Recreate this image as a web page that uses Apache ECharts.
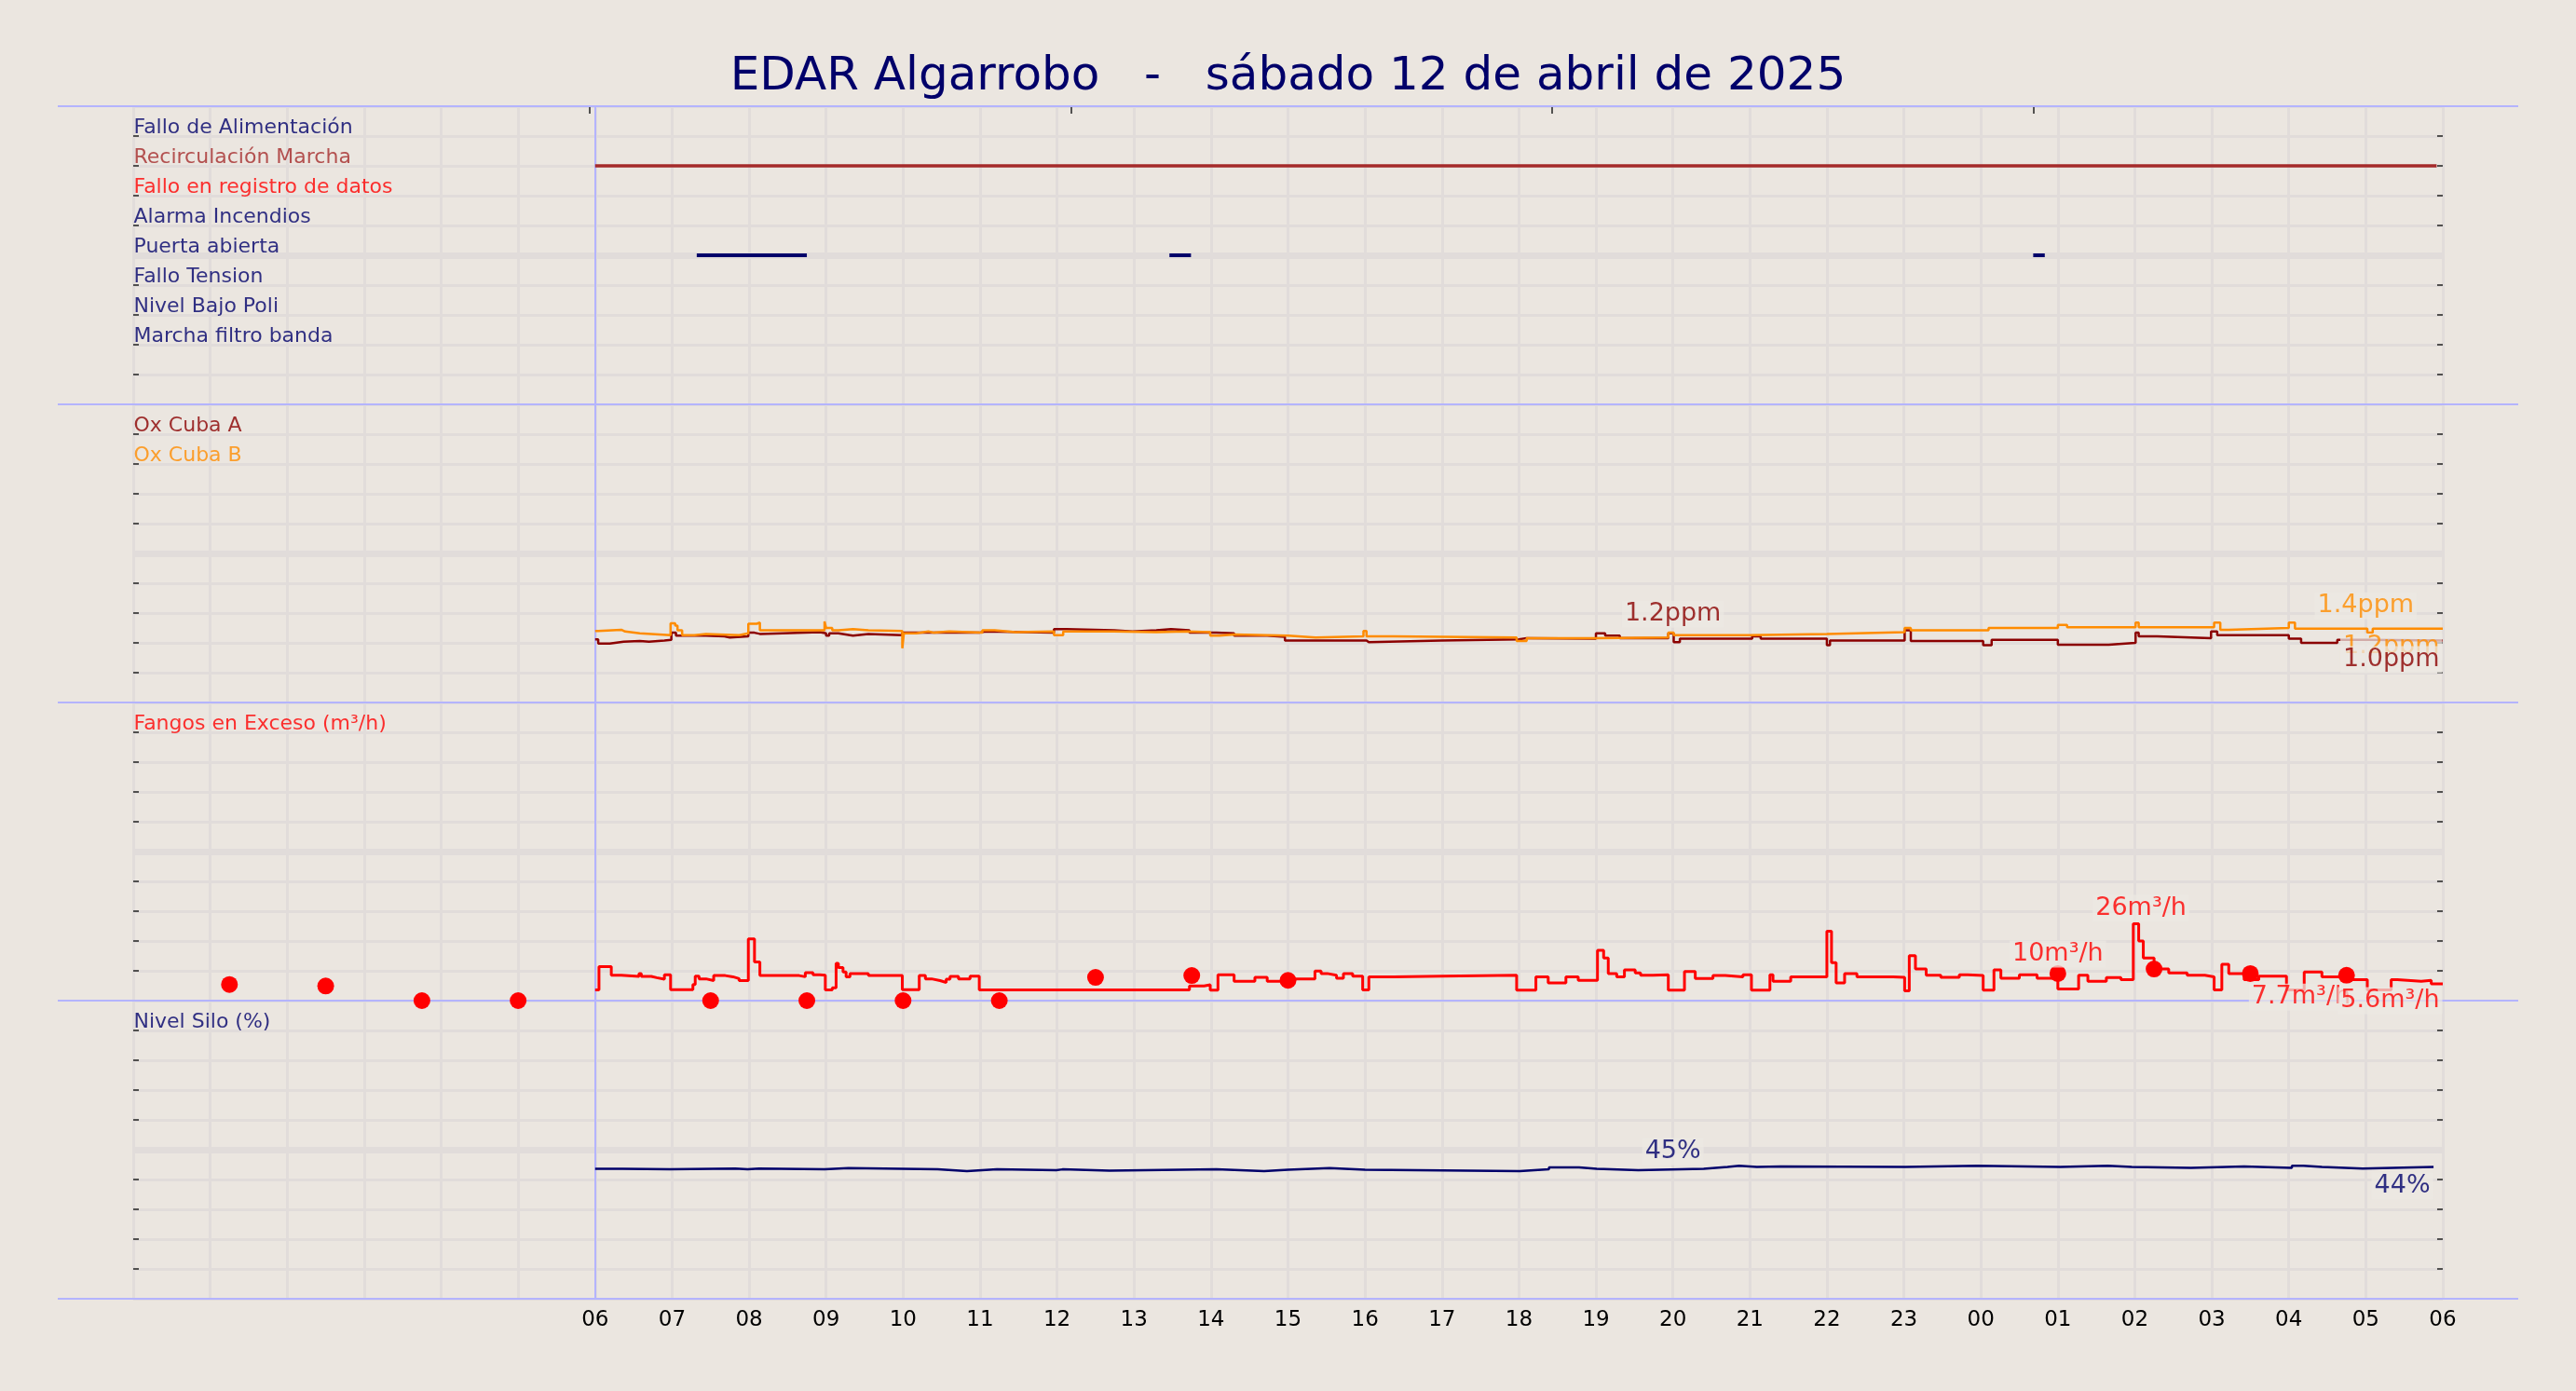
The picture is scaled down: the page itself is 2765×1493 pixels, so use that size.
<!DOCTYPE html>
<html>
<head>
<meta charset="utf-8">
<title>EDAR Algarrobo</title>
<script src="https://cdn.jsdelivr.net/npm/echarts@6/dist/echarts.min.js"></script>
<style>
html, body { margin: 0; padding: 0; background: #ebe6e0; }
#chart { width: 2765px; height: 1493px; }
</style>
</head>
<body>
<div id="chart"></div>
<script>
'use strict';

/*----- data -----*/
var hourLabels = ['06', '07', '08', '09', '10', '11', '12', '13', '14', '15', '16', '17', '18',
	'19', '20', '21', '22', '23', '00', '01', '02', '03', '04', '05', '06'];
var topTicks = [5.93, 12.18, 18.43, 24.68];

var signalNames = ['Fallo de Alimentación', 'Recirculación Marcha', 'Fallo en registro de datos',
	'Alarma Incendios', 'Puerta abierta', 'Fallo Tension', 'Nivel Bajo Poli', 'Marcha filtro banda'];
var signalRows = [9, 8, 7, 6, 5, 4, 3, 2];
var recircOn = [[6, 29.92]];
var puertaOn = [[7.32, 8.75], [13.46, 13.74], [24.68, 24.83]];

var oxNames = ['Ox Cuba A', 'Ox Cuba B'];
var oxA = [[6.0, 1.06], [6.04, 0.99], [6.19, 1.02], [6.37, 1.03], [6.58, 1.02], [6.70, 1.04], [6.90, 1.05],
	[6.99, 1.17], [7.05, 1.12], [7.44, 1.11], [7.68, 1.09], [7.75, 1.11], [7.99, 1.17], [8.07, 1.15],
	[8.14, 1.18], [8.92, 1.16], [9.00, 1.12], [9.04, 1.16], [9.16, 1.13], [9.31, 1.12], [9.35, 1.15],
	[9.55, 1.13], [9.99, 1.17], [10.99, 1.19], [11.07, 1.17], [11.96, 1.23], [12.12, 1.21], [12.74, 1.19],
	[12.98, 1.21], [13.29, 1.23], [13.48, 1.21], [13.72, 1.17], [14.07, 1.16], [14.30, 1.12], [14.73, 1.10],
	[14.96, 1.04], [16.02, 1.01], [16.05, 1.04], [16.99, 1.06], [18.0, 1.08], [18.10, 1.07], [19.0, 1.16],
	[19.12, 1.12], [19.31, 1.08], [19.94, 1.16], [20.01, 1.01], [20.09, 1.07], [21.03, 1.11], [21.14, 1.07],
	[22.0, 0.96], [22.04, 1.04], [23.01, 1.21], [23.09, 1.03], [24.03, 0.96], [24.14, 1.05], [25.0, 0.97],
	[25.66, 1.0], [26.01, 1.17], [26.05, 1.11], [26.29, 1.08], [26.99, 1.19], [27.07, 1.13], [28.0, 1.07],
	[28.16, 1.0], [28.63, 1.05], [29.02, 1.04], [30.0, 1.04]];
var oxB = [[6.0, 1.20], [6.04, 1.22], [6.34, 1.19], [6.39, 1.16], [6.58, 1.13], [6.98, 1.33], [7.04, 1.29],
	[7.07, 1.21], [7.13, 1.13], [7.29, 1.15], [7.44, 1.13], [7.87, 1.16], [7.99, 1.32], [8.10, 1.34],
	[8.14, 1.21], [8.98, 1.36], [9.00, 1.25], [9.08, 1.21], [9.16, 1.23], [9.35, 1.21], [9.55, 1.20],
	[9.99, 0.91], [10.01, 1.16], [10.17, 1.19], [10.33, 1.17], [10.40, 1.19], [10.60, 1.17], [11.03, 1.21],
	[11.19, 1.18], [11.46, 1.19], [11.96, 1.13], [12.08, 1.19], [12.74, 1.18], [13.29, 1.19], [13.68, 1.18],
	[13.99, 1.12], [14.11, 1.14], [14.30, 1.12], [15.00, 1.09], [15.36, 1.11], [15.98, 1.20], [16.02, 1.11],
	[16.37, 1.09], [17.97, 1.03], [18.10, 1.08], [19.0, 1.09], [19.94, 1.17], [20.01, 1.13], [21.0, 1.15],
	[22.0, 1.18], [23.01, 1.25], [23.09, 1.21], [24.10, 1.25], [25.0, 1.30], [25.12, 1.26], [26.01, 1.34],
	[26.05, 1.26], [27.03, 1.34], [27.11, 1.22], [27.22, 1.25], [28.0, 1.34], [28.08, 1.24], [29.02, 1.17],
	[29.09, 1.24], [30.0, 1.24]];

var fangosName = 'Fangos en Exceso (m³/h)';
var fangos = [[6.0, 3.6], [6.05, 11.4], [6.21, 8.5], [6.34, 8.1], [6.57, 9.1], [6.60, 8.1], [6.73, 7.7],
	[6.80, 7.2], [6.90, 8.7], [6.98, 3.7], [7.27, 5.4], [7.30, 8.2], [7.35, 7.3], [7.44, 6.7], [7.54, 8.4],
	[7.69, 8.0], [7.79, 7.4], [7.87, 6.7], [7.99, 20.7], [8.07, 13.0], [8.14, 8.4], [8.65, 8.0], [8.73, 9.4],
	[8.83, 8.7], [8.92, 8.5], [8.99, 3.6], [9.08, 4.3], [9.13, 12.5], [9.16, 11.1], [9.22, 9.6], [9.26, 8.0],
	[9.31, 9.1], [9.55, 8.4], [9.99, 3.7], [10.21, 8.4], [10.29, 7.3], [10.37, 6.7], [10.48, 6.1], [10.56, 7.2],
	[10.61, 8.1], [10.72, 7.3], [10.87, 8.2], [10.99, 3.6], [13.72, 4.9], [13.91, 5.3], [13.99, 3.5],
	[14.09, 8.7], [14.30, 6.5], [14.57, 7.8], [14.73, 6.5], [14.92, 7.3], [15.35, 9.9], [15.43, 9.1],
	[15.51, 8.5], [15.63, 7.5], [15.72, 9.1], [15.84, 8.2], [15.97, 3.6], [16.05, 8.0], [16.37, 8.2],
	[16.99, 8.5], [17.97, 3.5], [18.22, 8.0], [18.38, 5.9], [18.61, 8.0], [18.77, 6.8], [19.02, 16.9],
	[19.10, 14.3], [19.16, 9.1], [19.27, 8.0], [19.37, 10.3], [19.51, 9.3], [19.58, 8.5], [19.74, 8.7],
	[19.94, 3.5], [20.15, 9.8], [20.29, 7.4], [20.52, 8.4], [20.68, 8.0], [20.91, 8.7], [21.02, 3.5],
	[21.26, 8.7], [21.30, 6.5], [21.53, 8.0], [22.0, 23.3], [22.06, 12.7], [22.12, 5.9], [22.23, 9.1],
	[22.39, 8.0], [22.86, 7.8], [23.01, 3.3], [23.07, 15.1], [23.15, 10.6], [23.29, 8.5], [23.48, 7.8],
	[23.72, 8.7], [23.83, 8.4], [24.03, 3.5], [24.17, 10.3], [24.26, 7.5], [24.50, 8.7], [24.73, 7.5],
	[25.0, 3.9], [25.27, 8.5], [25.39, 6.5], [25.63, 7.7], [25.82, 7.0], [25.98, 25.8], [26.05, 20.0],
	[26.11, 14.3], [26.25, 10.6], [26.44, 9.3], [26.68, 8.5], [26.91, 8.0], [27.03, 3.6], [27.13, 12.2],
	[27.22, 9.1], [27.42, 7.0], [27.61, 8.2], [27.97, 3.6], [28.2, 9.6], [28.43, 8.0], [28.74, 7.0],
	[29.02, 3.6], [29.33, 7.0], [29.41, 6.5], [29.72, 6.8], [29.85, 5.6], [30.0, 5.6]];
var fangosDotTimes = [1.25, 2.5, 3.75, 5, 6.25, 7.5, 8.75, 10, 11.25, 12.5, 13.75, 15, 16.25, 17.5,
	18.75, 20, 21.25, 22.5, 23.75, 25, 26.25, 27.5, 28.75];
var fangosDots = [5.4, 4.9, 0, 0, null, 0, 0, 0, 0, 7.8, 8.4, 6.8, null, null,
	null, null, null, null, null, 9.1, 10.6, 9.1, 8.5];

var siloName = 'Nivel Silo (%)';
var silo = [[6.0, 43.6], [6.36, 43.4], [6.97, 43.7], [7.82, 43.4], [7.98, 43.7], [8.13, 43.4], [8.98, 43.8],
	[9.29, 43.4], [10.45, 42.8], [10.83, 43.4], [11.22, 43.1], [11.99, 43.4], [12.07, 43.0], [12.68, 43.4],
	[14.07, 42.8], [14.69, 43.3], [15.0, 43.8], [15.54, 43.3], [16.0, 42.8], [18.01, 43.4], [18.39, 44.1],
	[18.78, 43.6], [19.01, 43.1], [19.55, 43.6], [20.40, 44.2], [20.71, 44.6], [20.86, 44.2], [21.09, 44.4],
	[21.40, 44.2], [23.02, 44.6], [23.95, 44.2], [25.03, 44.6], [25.65, 44.2], [25.96, 43.9], [26.73, 44.4],
	[27.42, 43.9], [28.04, 44.6], [28.19, 44.2], [28.43, 43.7], [28.96, 44.2], [29.88, 44.2]];

var oxNotes = ['1.2ppm', '1.4ppm', '1.2ppm', '1.0ppm'];
var fangosNotes = ['26m³/h', '10m³/h', '7.7m³/h', '5.6m³/h'];
var siloNotes = ['45%', '44%'];

/*----- styles -----*/
var FONT = 'DejaVu Sans';
var GRIDC = '#e1dcda';
var SEP = '#b4b4ff';
var NAVY = '#00006a';
var DARKRED = '#8b0000';
var ORANGE = '#ff8c00';
var RED = '#ff0000';
var BROWN = '#a52a2a';
var signalColors = [NAVY, BROWN, RED, NAVY, NAVY, NAVY, NAVY, NAVY];

var panelTops = [114, 434, 754, 1074];
var panelH = 320;
var yRanges = [[0, 10, 1], [0, 5, 0.5], [0, 100, 10], [0, 100, 10]];

function labelSeries(panel, names, rows, colors) {
	var mid = (yRanges[panel][0] + yRanges[panel][1]) / 2;
	return {
		type: 'scatter', xAxisIndex: panel, yAxisIndex: panel * 2, z: 1, silent: true,
		symbolSize: 1, itemStyle: { color: 'rgba(0,0,0,0)' },
		data: names.map(function(n, k) {
			return { value: [0, rows[k]], name: n, label: { color: colors[k] } };
		}),
		label: {
			show: true, position: 'right', distance: 0, offset: [0, -9],
			formatter: '{b}', fontFamily: FONT, fontSize: 22
		},
		markLine: {
			silent: true, symbol: 'none', animation: false, z: 1, label: { show: false },
			data: [
				{ yAxis: mid, lineStyle: { color: GRIDC, width: 7, type: 'solid' } },
				{ xAxis: 6, lineStyle: { color: SEP, width: 2, type: 'solid' } }
			]
		}
	};
}

function noteSeries(panel, texts, spots, color) {
	return {
		type: 'scatter', xAxisIndex: panel, yAxisIndex: panel * 2, z: 10, silent: true,
		symbolSize: 1, itemStyle: { color: 'rgba(0,0,0,0)' },
		data: texts.map(function(t, k) {
			var s = spots[k];
			return {
				value: [s[0], s[1]], name: t,
				label: { position: s[2], distance: 0, color: s[3] || color }
			};
		}),
		label: {
			show: true, formatter: '{b}', fontFamily: FONT, fontSize: 27,
			backgroundColor: 'rgba(236,232,227,0.92)', padding: [1, 3]
		}
	};
}

function stepLine(panel, data, color, width, z) {
	return {
		type: 'line', xAxisIndex: panel, yAxisIndex: panel * 2, step: 'end', data: data,
		showSymbol: false, symbol: 'none', silent: true, z: z || 3,
		lineStyle: { color: color, width: width }
	};
}

// one flat segment per "on" interval of a digital signal
function signalSeries(list, row, color, width) {
	return list.map(function(iv) {
		return stepLine(0, [[iv[0], row], [iv[1], row]], color, width, 4);
	});
}

var xAxes = panelTops.map(function(t, i) {
	return {
		type: 'value', gridIndex: i, min: 0, max: 30, interval: 1,
		axisLine: { show: false, onZero: false }, axisTick: { show: false },
		axisLabel: i === 3 ? {
			show: true, margin: 12, fontSize: 23, color: '#000', fontFamily: FONT,
			showMinLabel: true, showMaxLabel: true,
			formatter: function(v) { return v >= 6 ? hourLabels[v - 6] : ''; }
		} : { show: false },
		splitLine: { show: true, lineStyle: { color: GRIDC, width: 3 } }
	};
});
// small ticks along the top edge
xAxes.push({
	type: 'value', gridIndex: 0, position: 'top', min: 0, max: 30, interval: 6,
	axisLine: { show: false, onZero: false },
	axisTick: { show: true, inside: true, length: 8, customValues: topTicks,
		lineStyle: { color: '#222', width: 1.5 } },
	axisLabel: { show: false }, splitLine: { show: false }
});

var yAxes = [];
yRanges.forEach(function(r, i) {
	['left', 'right'].forEach(function(side) {
		yAxes.push({
			type: 'value', gridIndex: i, min: r[0], max: r[1], interval: r[2], position: side,
			axisLine: { show: false, onZero: false }, axisLabel: { show: false },
			axisTick: { show: true, inside: true, length: 6, lineStyle: { color: '#222', width: 1.5 } },
			splitLine: { show: side === 'left', lineStyle: { color: GRIDC, width: 3 } }
		});
	});
});

var dots = [];
fangosDotTimes.forEach(function(t, k) {
	if (fangosDots[k] !== null) dots.push([t, fangosDots[k]]);
});

var series = [labelSeries(0, signalNames, signalRows, signalColors)]
	.concat(signalSeries(recircOn, 8, BROWN, 3.5))
	.concat(signalSeries(puertaOn, 5, NAVY, 4))
	.concat([
		labelSeries(1, oxNames, [4.5, 4.0], [DARKRED, ORANGE]),
		stepLine(1, oxA, DARKRED, 2.5, 3),
		stepLine(1, oxB, ORANGE, 2.5, 4),
		noteSeries(1, oxNotes, [[20, 1.48, 'inside', DARKRED], [29.0, 1.62, 'inside', ORANGE],
			[30, 0.93, 'left', ORANGE], [30, 0.72, 'left', DARKRED]]),

		labelSeries(2, [fangosName], [90], [RED]),
		stepLine(2, fangos, RED, 3),
		{
			type: 'scatter', xAxisIndex: 2, yAxisIndex: 4, z: 5, silent: true,
			symbol: 'circle', symbolSize: 18, itemStyle: { color: RED, opacity: 1 }, data: dots
		},
		noteSeries(2, fangosNotes, [[26.08, 30.9, 'inside'], [25.0, 15.6, 'inside'],
			[28.16, 1.2, 'inside'], [30, 0, 'left']], RED),

		labelSeries(3, [siloName], [90], [NAVY]),
		stepLine(3, silo, NAVY, 2.5),
		noteSeries(3, siloNotes, [[20.0, 49.4, 'inside'], [29.88, 37.8, 'left']], NAVY)
	]);

var chart = echarts.init(document.getElementById('chart'));
chart.setOption({
	animation: false,
	backgroundColor: '#ebe6e0',
	textStyle: { fontFamily: FONT },
	title: {
		text: 'EDAR Algarrobo   -   sábado 12 de abril de 2025',
		left: 'center', top: 53,
		textStyle: { fontFamily: FONT, fontSize: 50, fontWeight: 'normal', color: NAVY }
	},
	grid: panelTops.map(function(t) {
		return { left: 143, right: 143, top: t, height: panelH };
	}),
	xAxis: xAxes,
	yAxis: yAxes,
	graphic: [114, 434, 754, 1074, 1394].map(function(y) {
		return {
			type: 'line', silent: true, z: 1,
			shape: { x1: 62, y1: y, x2: 2703, y2: y },
			style: { stroke: SEP, lineWidth: 2 }
		};
	}),
	series: series
});
</script>
</body>
</html>
